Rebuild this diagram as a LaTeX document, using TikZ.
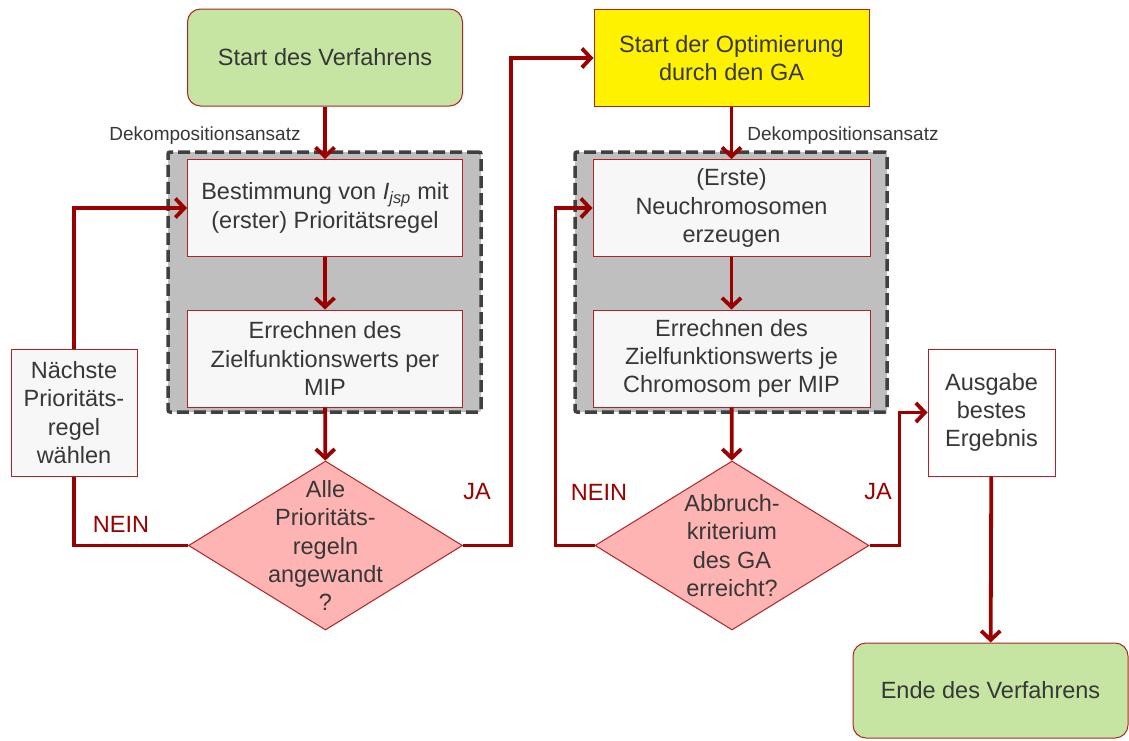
\documentclass[tikz,border=0pt]{standalone}
\usepackage{fontspec}
\setmainfont{Liberation Sans}
\usetikzlibrary{arrows.meta,shapes.geometric,calc}

\definecolor{pfeilrot}{RGB}{155,0,0}
\definecolor{randrot}{RGB}{175,35,35}
\definecolor{textgrau}{RGB}{55,55,55}
\definecolor{gruen}{RGB}{198,229,163}
\definecolor{rosa}{RGB}{255,180,180}
\definecolor{kastengrau}{RGB}{191,191,191}
\definecolor{hellgrau}{RGB}{247,247,247}

\begin{document}
\begin{tikzpicture}[x=1pt, y=-1pt,
            every node/.style={font=\fontsize{23.5}{28.3}\selectfont, text=textgrau,
                               align=center, inner sep=0pt},
            box/.style={draw=randrot, line width=1pt, fill=hellgrau,
                        minimum width=275pt, minimum height=97pt},
            rundbox/.style={box, fill=gruen, rounded corners=13pt},
            klein/.style={box, minimum width=126pt, minimum height=127pt},
            raute/.style={draw=randrot, line width=1pt, fill=rosa, diamond,
                          minimum width=274pt, minimum height=169pt},
            grau/.style={draw=black!75, line width=3.5pt, dash pattern=on 12pt off 5pt,
                         fill=kastengrau, rounded corners=2pt,
                         minimum width=313pt, minimum height=260pt},
            hinweis/.style={font=\fontsize{19}{22}\selectfont},
            marke/.style={text=pfeilrot},
            conn/.style={draw=pfeilrot, line width=3.8pt},
            arr/.style={conn, -{Straight Barb[length=9pt,width=19pt]}}]

        \useasboundingbox (0,0) rectangle (1129,740);

        % linke Seite: Prioritaetsregeln
        \node[rundbox] (nodeStart) at (325,57.5) {Start des Verfahrens};
        \node[hinweis] (nodeDekoA) at (205,136) {Dekompositionsansatz};
        \node[grau] (nodeGrauA) at (324.5,282) {};
        \node[box] (nodeBestimmung) at (325,208)
            {Bestimmung von {\itshape I\textsubscript{jsp}} mit\\(erster) Prioritätsregel};
        \node[box] (nodeErrechnenA) at (325,358.5)
            {Errechnen des\\Zielfunktionswerts per\\MIP};
        \node[raute] (nodeAlle) at (325.5,545.5) {};
        \node (nodeAlleText) at (nodeAlle) {Alle\\Prioritäts-\\regeln\\angewandt\\?};
        \node[klein] (nodeNaechste) at (74,412.5) {Nächste\\Prioritäts-\\regel\\wählen};

        % rechte Seite: GA
        \node[box, fill=yellow] (nodeStartGA) at (731.5,58)
            {Start der Optimierung\\durch den GA};
        \node[hinweis] (nodeDekoB) at (843,136) {Dekompositionsansatz};
        \node[grau, minimum width=312pt] (nodeGrauB) at (731,282) {};
        \node[box, minimum width=277pt] (nodeNeu) at (731.5,208)
            {(Erste)\\Neuchromosomen\\erzeugen};
        \node[box, minimum width=277pt] (nodeErrechnenB) at (731.5,358.5)
            {Errechnen des\\Zielfunktionswerts je\\Chromosom per MIP};
        \node[raute] (nodeAbbruch) at (732,545.5) {};
        \node (nodeAbbruchText) at (nodeAbbruch) {Abbruch-\\kriterium\\des GA\\erreicht?};
        \node[klein, fill=white, minimum width=127pt] (nodeAusgabe) at (991.5,412.5)
            {Ausgabe\\bestes\\Ergebnis};
        \node[rundbox, minimum height=95pt] (nodeEnde) at (990.5,690.5) {Ende des Verfahrens};

        % Verbindungen links
        \draw[arr] (nodeStart) -- (nodeBestimmung);
        \draw[arr] (nodeBestimmung) -- (nodeErrechnenA);
        \draw[arr] (nodeErrechnenA) -- (nodeAlle);
        \draw[conn] (nodeAlle.west) -| (nodeNaechste.south);
        \draw[arr] (nodeNaechste.north) |- (nodeBestimmung.west);
        \draw[arr] (nodeAlle.east) -- ++(48,0) |- (nodeStartGA.west);

        % Verbindungen rechts
        \draw[arr] (nodeStartGA) -- (nodeNeu);
        \draw[arr] (nodeNeu) -- (nodeErrechnenB);
        \draw[arr] (nodeErrechnenB) -- (nodeAbbruch);
        \draw[arr] (nodeAbbruch.west) -- ++(-39,0) |- (nodeNeu.west);
        \draw[arr] (nodeAbbruch.east) -- ++(30,0) |- (nodeAusgabe.west);
        \draw[arr] (nodeAusgabe) -- (nodeEnde);

        % JA / NEIN
        \node[marke] (nodeNeinA) at (121,524) {NEIN};
        \node[marke] (nodeJaA) at (477,492) {JA};
        \node[marke] (nodeNeinB) at (599,492) {NEIN};
        \node[marke] (nodeJaB) at (878,492) {JA};

\end{tikzpicture}
\end{document}
